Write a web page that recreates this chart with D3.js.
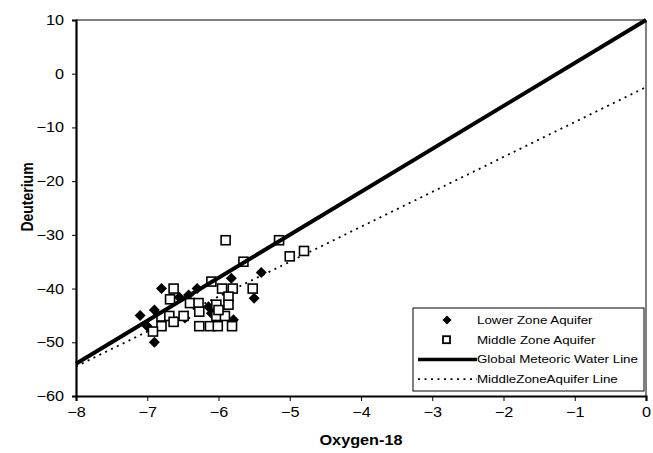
<!DOCTYPE html>
<html>
<head>
<meta charset="utf-8">
<script src="https://cdn.jsdelivr.net/npm/d3@7"></script>
<style>
  body { margin: 0; background: #fff; }
  text { font-family: "Liberation Sans", Arial, sans-serif; }
</style>
</head>
<body>
<script>
// Chart size
var width = 653,
    height = 453;
var margin = {top: 20, right: 7, bottom: 57, left: 76};
var sx = 1.16; // the source picture is stretched a little sideways

// Data
var lowerZone = [
  [-7.1, -45], [-7.0, -47], [-6.9, -50], [-6.9, -44], [-6.8, -40],
  [-6.55, -41.6], [-6.47, -45.5], [-6.42, -41.2], [-6.3, -40], [-6.14, -43.4],
  [-6.1, -44.6], [-5.82, -38.1], [-5.79, -45.8], [-5.5, -41.8], [-5.4, -37]
];
var middleZone = [
  [-5.9, -31], [-5.15, -31], [-5.0, -34], [-4.8, -33], [-5.65, -35],
  [-6.1, -38.7], [-5.95, -40], [-5.8, -40], [-5.52, -40], [-6.63, -40],
  [-6.68, -42], [-5.86, -41.5], [-5.86, -43], [-6.4, -42.7], [-6.28, -42.7],
  [-6.27, -44.3], [-6.03, -43], [-6.8, -45.2], [-6.69, -45.1], [-6.49, -45.1],
  [-6.63, -46.2], [-6.8, -47], [-6.92, -48], [-6.27, -47], [-6.12, -47],
  [-6.01, -47], [-5.81, -47], [-6.03, -45.1], [-5.91, -45.1], [-6.0, -44]
];
// lines as [slope, intercept]
var gmwl = [8, 10];
var mzaLine = [6.5, -2.5];
var xTicks = [-8, -7, -6, -5, -4, -3, -2, -1, 0];
var yTicks = [-60, -50, -40, -30, -20, -10, 0, 10];
var legendLabels = ["Lower Zone Aquifer", "Middle Zone Aquifer", "Global Meteoric Water Line", "MiddleZoneAquifer Line"];

var x = d3.scaleLinear().domain([-8, 0]).range([margin.left, width - margin.right]);
var y = d3.scaleLinear().domain([-60, 10]).range([height - margin.bottom, margin.top]);

var svg = d3.select("body").append("svg")
    .attr("width", width)
    .attr("height", height);

// stretch a text element sideways around its anchor point
function stretch(sel) {
  sel.each(function() {
    var t = d3.select(this);
    var tx = +t.attr("x") || 0, ty = +t.attr("y") || 0;
    t.attr("x", 0).attr("y", 0)
     .attr("transform", "translate(" + tx + "," + ty + ") scale(" + sx + ",1)");
  });
}

// thin frame top/right
svg.append("path")
    .attr("d", "M" + x(-8) + "," + y(10) + "H" + x(0) + "V" + y(-60))
    .attr("fill", "none").attr("stroke", "#000").attr("stroke-width", 1);

// axes
var xAxis = svg.append("g")
    .attr("transform", "translate(0," + y(-60) + ")")
    .call(d3.axisBottom(x).tickValues(xTicks).tickSize(5).tickPadding(6));
var yAxis = svg.append("g")
    .attr("transform", "translate(" + x(-8) + ",0)")
    .call(d3.axisLeft(y).tickValues(yTicks).tickSize(4).tickPadding(8));
[xAxis, yAxis].forEach(function(a) {
  a.select(".domain").attr("stroke-width", 2.2);
  a.selectAll(".tick line").attr("stroke-width", 1);
  a.selectAll("text").attr("font-size", 14).attr("fill", "#000")
    .style("font-family", "'Liberation Sans', Arial, sans-serif")
    .call(stretch);
});

// regression lines
function lineEnds(l) {
  return [[-8, l[0] * -8 + l[1]], [0, l[1]]];
}
var line = d3.line().x(function(d) { return x(d[0]); }).y(function(d) { return y(d[1]); });

svg.append("path")
    .attr("d", line(lineEnds(mzaLine)))
    .attr("stroke", "#000").attr("stroke-width", 1.8)
    .attr("stroke-dasharray", "2,4.5").attr("fill", "none");

// points
svg.append("g").selectAll("path")
    .data(lowerZone)
  .enter().append("path")
    .attr("transform", function(d) { return "translate(" + x(d[0]) + "," + y(d[1]) + ")"; })
    .attr("d", "M0,-5.5L5.5,0L0,5.5L-5.5,0Z")
    .attr("fill", "#000");

svg.append("g").selectAll("rect")
    .data(middleZone)
  .enter().append("rect")
    .attr("x", function(d) { return x(d[0]) - 4.5; })
    .attr("y", function(d) { return y(d[1]) - 4.5; })
    .attr("width", 9).attr("height", 9)
    .attr("fill", "#fff").attr("stroke", "#000").attr("stroke-width", 1.6);

svg.append("path")
    .attr("d", line(lineEnds(gmwl)))
    .attr("stroke", "#000").attr("stroke-width", 4).attr("fill", "none");

// axis titles
svg.append("text")
    .attr("x", (x(-8) + x(0)) / 2).attr("y", 445)
    .attr("text-anchor", "middle").attr("font-size", 14).attr("font-weight", "bold")
    .text("Oxygen-18")
    .call(stretch);
svg.append("text")
    .attr("transform", "translate(33,197) scale(" + sx + ",1) rotate(-90)")
    .attr("text-anchor", "middle").attr("font-size", 14).attr("font-weight", "bold")
    .text("Deuterium");

// legend
var legend = svg.append("g").attr("transform", "translate(413,308)");
legend.append("rect")
    .attr("width", 231).attr("height", 83)
    .attr("fill", "#fff").attr("stroke", "#000").attr("stroke-width", 1);
var rows = legend.selectAll("g.row")
    .data(legendLabels)
  .enter().append("g")
    .attr("class", "row")
    .attr("transform", function(d, i) { return "translate(0," + (12 + i * 19.7) + ")"; });
rows.append("text")
    .attr("x", 64).attr("dy", "0.35em")
    .attr("font-size", 11.5)
    .text(function(d) { return d; })
    .call(stretch);
rows.filter(function(d, i) { return i === 0; }).append("path")
    .attr("d", "M34,-4.5L38.5,0L34,4.5L29.5,0Z").attr("fill", "#000");
rows.filter(function(d, i) { return i === 1; }).append("rect")
    .attr("x", 30).attr("y", -3.5).attr("width", 7).attr("height", 7)
    .attr("fill", "#fff").attr("stroke", "#000").attr("stroke-width", 1.8);
rows.filter(function(d, i) { return i === 2; }).append("line")
    .attr("x1", 5).attr("x2", 64).attr("stroke", "#000").attr("stroke-width", 3.5);
rows.filter(function(d, i) { return i === 3; }).append("line")
    .attr("x1", 5).attr("x2", 64).attr("stroke", "#000").attr("stroke-width", 1.8)
    .attr("stroke-dasharray", "2,4.5");
</script>
</body>
</html>
